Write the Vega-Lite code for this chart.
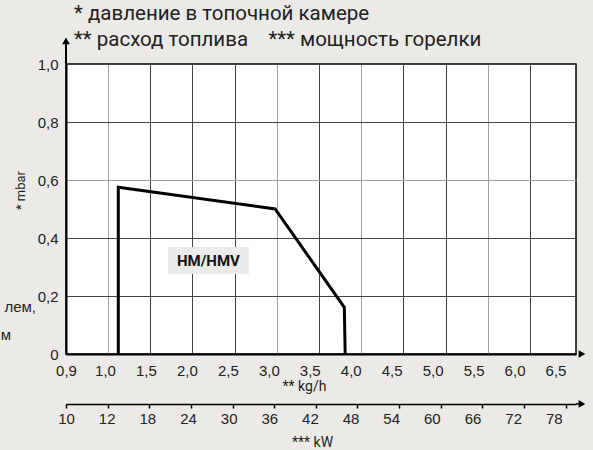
{
  "$schema": "https://vega.github.io/schema/vega-lite/v6.json",
  "width": 510,
  "height": 290,
  "autosize": "none",
  "padding": {"left": 66, "top": 64, "right": 17, "bottom": 96},
  "background": "#ebeae6",
  "view": {"fill": "white", "stroke": "#000", "strokeWidth": 1.5},
  "title": {
    "text": ["* давление в топочной камере", "** расход топлива\u00a0\u00a0\u00a0\u00a0*** мощность горелки"],
    "anchor": "start",
    "frame": "group",
    "font": "Roboto",
    "fontSize": 20.5,
    "fontWeight": "normal",
    "color": "#222",
    "lineHeight": 26,
    "dx": 8,
    "dy": 17,
    "offset": 4
  },
  "datasets": {
    "curve": [
      {"i": 0, "kgh": 1.122, "mbar": 0},
      {"i": 1, "kgh": 1.122, "mbar": 0.575},
      {"i": 2, "kgh": 2.98, "mbar": 0.5},
      {"i": 3, "kgh": 3.8, "mbar": 0.161},
      {"i": 4, "kgh": 3.81, "mbar": 0}
    ],
    "labelbox": [{"kgh": 1.71, "kgh2": 2.67, "mbar": 0.276, "mbar2": 0.369, "label": "HM/HMV"}],
    "xarrow": [{"kgh": 6.565, "mbar": 0}],
    "yline": [{"kgh": 0.9, "mbar": 1.0, "mbar2": 1.07}],
    "yarrow": [{"kgh": 0.9, "mbar": 1.08}],
    "fragments": [
      {"kgh": 0.8286, "mbar": 0.163, "label": "лем,"},
      {"kgh": 0.769, "mbar": 0.066, "label": "м"}
    ],
    "kwline": [{"kw": 79.49, "kw2": 80.35, "mbar": -0.172}],
    "kwarrow": [{"kw": 80.35, "mbar": -0.172}]
  },
  "layer": [
    {
      "layer": [
        {
          "data": {"name": "curve"},
          "mark": {"type": "line", "color": "#000", "strokeWidth": 3, "strokeJoin": "miter", "strokeCap": "butt"},
          "encoding": {
            "x": {
              "field": "kgh", "type": "quantitative",
              "scale": {"type": "linear", "domain": [0.9, 1.0, 6.0, 6.5], "range": [0, 42, 464, 510], "nice": false, "zero": false},
              "axis": {
                "orient": "bottom",
                "title": null,
                "values": [1.0, 1.5, 2.0, 2.5, 3.0, 3.5, 4.0, 4.5, 5.0, 5.5, 6.0],
                "labels": false,
                "grid": true,
                "gridColor": {"condition": {"test": "datum.value == 1 || datum.value == 3 || datum.value == 4 || datum.value == 5.5", "value": "#a0a0a0"}, "value": "#444"},
                "gridWidth": 1,
                "ticks": false,
                "domain": true,
                "domainColor": "#000",
                "domainWidth": 2
              }
            },
            "y": {
              "field": "mbar", "type": "quantitative",
              "scale": {"domain": [0, 1], "nice": false, "zero": false},
              "axis": {
                "title": "* mbar",
                "values": [0, 0.1, 0.2, 0.3, 0.4, 0.5, 0.6, 0.7, 0.8, 0.9, 1.0],
                "labelExpr": "datum.value == 0 ? '0' : (round(datum.value * 10) % 2 == 0 ? replace(format(datum.value, '.1f'), '.', ',') : '')",
                "grid": true,
                "gridColor": {"condition": {"test": "abs(datum.value - 0.3) < 0.01 || abs(datum.value - 0.6) < 0.01 || abs(datum.value - 0.9) < 0.01", "value": "#a0a0a0"}, "value": "#444"},
                "gridWidth": 1,
                "ticks": false,
                "domain": true,
                "domainColor": "#000",
                "domainWidth": 2,
                "labelPadding": 8,
                "labelOverlap": false,
                "labelFlush": false,
                "titleX": -46,
                "titleY": 126,
                "titleAngle": -90,
                "titleFontSize": 13,
                "titleBaseline": "middle"
              }
            },
            "order": {"field": "i", "type": "quantitative"}
          }
        },
        {
          "data": {"name": "labelbox"},
          "mark": {"type": "rect", "fill": "#ebebe9"},
          "encoding": {
            "x": {"field": "kgh", "type": "quantitative"},
            "x2": {"field": "kgh2"},
            "y": {"field": "mbar", "type": "quantitative"},
            "y2": {"field": "mbar2"}
          }
        },
        {
          "data": {"name": "labelbox"},
          "mark": {"type": "text", "font": "Roboto", "fontWeight": "bold", "fontSize": 15, "color": "#111", "align": "center", "baseline": "middle"},
          "encoding": {
            "x": {"datum": 2.19, "type": "quantitative"},
            "y": {"datum": 0.322, "type": "quantitative"},
            "text": {"field": "label"}
          }
        },
        {
          "data": {"name": "xarrow"},
          "mark": {"type": "point", "shape": "triangle-right", "filled": true, "color": "#000", "size": 60, "opacity": 1},
          "encoding": {
            "x": {"field": "kgh", "type": "quantitative"},
            "y": {"field": "mbar", "type": "quantitative"}
          }
        },
        {
          "data": {"name": "yline"},
          "mark": {"type": "rule", "color": "#000", "strokeWidth": 2},
          "encoding": {
            "x": {"field": "kgh", "type": "quantitative"},
            "y": {"field": "mbar", "type": "quantitative"},
            "y2": {"field": "mbar2"}
          }
        },
        {
          "data": {"name": "yarrow"},
          "mark": {"type": "point", "shape": "triangle-up", "filled": true, "color": "#000", "size": 60, "opacity": 1},
          "encoding": {
            "x": {"field": "kgh", "type": "quantitative"},
            "y": {"field": "mbar", "type": "quantitative"}
          }
        },
        {
          "data": {"name": "fragments"},
          "mark": {"type": "text", "font": "Liberation Sans", "fontSize": 15, "color": "#222", "align": "right", "baseline": "middle"},
          "encoding": {
            "x": {"field": "kgh", "type": "quantitative"},
            "y": {"field": "mbar", "type": "quantitative"},
            "text": {"field": "label"}
          }
        }
      ]
    },
    {
      "data": {"name": "xarrow"},
      "mark": {"type": "point", "opacity": 0},
      "encoding": {
        "x": {
          "field": "kgh", "type": "quantitative",
          "scale": {"type": "linear", "domain": [0.9, 1.0, 6.5], "range": [0, 39, 489.5], "nice": false, "zero": false},
          "axis": {
            "orient": "bottom",
            "title": "** kg/h",
            "values": [0.9, 1.0, 1.5, 2.0, 2.5, 3.0, 3.5, 4.0, 4.5, 5.0, 5.5, 6.0, 6.5],
            "labelExpr": "replace(format(datum.value, '.1f'), '.', ',')",
            "grid": false,
            "ticks": false,
            "domain": false,
            "labelPadding": 9,
            "labelFlush": false,
            "labelOverlap": false,
            "labelBound": false,
            "titleX": 238,
            "titleY": 32,
            "titleBaseline": "middle"
          }
        },
        "y": {"field": "mbar", "type": "quantitative"}
      }
    },
    {
      "layer": [
        {
          "data": {"name": "kwline"},
          "mark": {"type": "rule", "color": "#000", "strokeWidth": 1.5},
          "encoding": {
            "x": {
              "field": "kw", "type": "quantitative",
              "scale": {"type": "linear", "domain": [10, 12, 79.49], "range": [0, 41.64, 510], "nice": false, "zero": false},
              "axis": {
                "orient": "bottom",
                "offset": 50,
                "title": null,
                "values": [10, 12, 18, 24, 30, 36, 42, 48, 54, 60, 66, 72, 78],
                "grid": false,
                "labels": false,
                "ticks": true,
                "tickColor": "#000",
                "tickSize": 4,
                "tickWidth": 1.5,
                "domain": true,
                "domainColor": "#000",
                "domainWidth": 1.5
              }
            },
            "x2": {"field": "kw2"},
            "y": {"field": "mbar", "type": "quantitative"}
          }
        },
        {
          "data": {"name": "kwarrow"},
          "mark": {"type": "point", "shape": "triangle-right", "filled": true, "color": "#000", "size": 60, "opacity": 1},
          "encoding": {
            "x": {"field": "kw", "type": "quantitative"},
            "y": {"field": "mbar", "type": "quantitative"}
          }
        }
      ]
    },
    {
      "data": {"name": "kwarrow"},
      "mark": {"type": "point", "opacity": 0},
      "encoding": {
        "x": {
          "field": "kw", "type": "quantitative",
          "scale": {"type": "linear", "domain": [10, 12, 78], "range": [0, 40.7, 487.8], "nice": false, "zero": false},
          "axis": {
            "orient": "bottom",
            "offset": 50,
            "title": "*** kW",
            "values": [10, 12, 18, 24, 30, 36, 42, 48, 54, 60, 66, 72, 78],
            "grid": false,
            "ticks": false,
            "domain": false,
            "labelPadding": 7,
            "labelFlush": false,
            "labelOverlap": false,
            "labelBound": false,
            "titleX": 246,
            "titleY": 38,
            "titleBaseline": "middle"
          }
        },
        "y": {"field": "mbar", "type": "quantitative"}
      }
    }
  ],
  "resolve": {"scale": {"x": "independent"}, "axis": {"x": "independent"}},
  "config": {
    "font": "Liberation Sans",
    "axis": {
      "labelFont": "Liberation Sans",
      "labelFontSize": 15,
      "labelColor": "#222",
      "titleFont": "Roboto",
      "titleFontWeight": "normal",
      "titleFontSize": 14,
      "titleColor": "#222"
    }
  }
}
